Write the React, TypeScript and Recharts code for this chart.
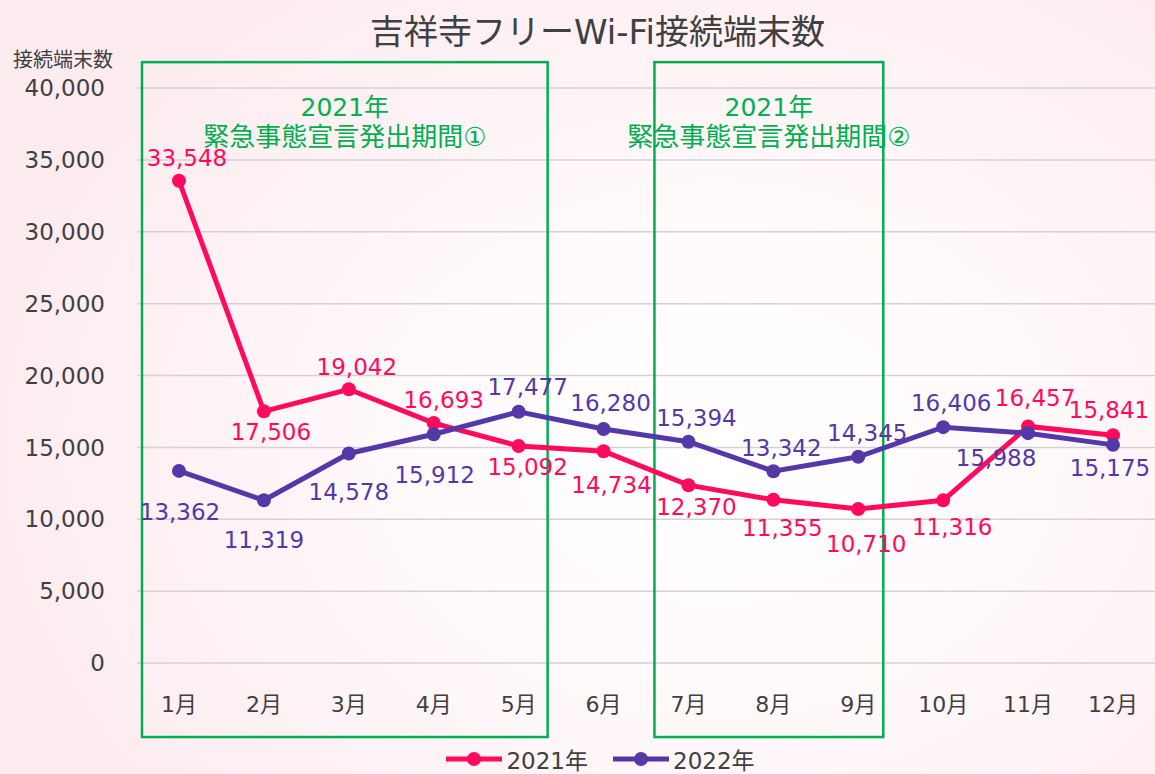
import {
  LineChart, Line, XAxis, YAxis, CartesianGrid, Legend, LabelList, ReferenceArea,
} from "recharts";

const months = ["1月", "2月", "3月", "4月", "5月", "6月", "7月", "8月", "9月", "10月", "11月", "12月"];
const y2021 = [33548, 17506, 19042, 16693, 15092, 14734, 12370, 11355, 10710, 11316, 16457, 15841];
const y2022 = [13362, 11319, 14578, 15912, 17477, 16280, 15394, 13342, 14345, 16406, 15988, 15175];
const yTicks = [0, 5000, 10000, 15000, 20000, 25000, 30000, 35000, 40000];

// label offsets (dx, dy) from each point, picked by eye
const off2021 = [[8, -23], [7, 21], [8, -22], [10, -23], [9, 21], [8, 34], [8, 22], [9, 28], [8, 35], [9, 27], [7, -28], [-4, -25]];
const off2022 = [[1, 41], [0, 40], [0, 39], [1, 41], [9, -25], [7, -26], [8, -24], [8, -23], [9, -24], [8, -24], [-32, 25], [-3, 23]];

const RED = "#FF0A5C";
const PURPLE = "#5438A8";
const GREEN = "#00B050";
const TEXT = "#404040";
const FONT = "'DejaVu Sans', 'Noto Sans CJK JP', sans-serif";

const data = months.map((m, i) => ({ month: m, a: y2021[i], b: y2022[i] }));

const fmt = (v: number) => v.toLocaleString("en-US");

const makeLabel = (offsets: number[][], color: string) => (props: any) => {
  const { x, y, index, value } = props;
  const [dx, dy] = offsets[index] || [0, -20];
  return (
    <text x={x + dx} y={y + dy} fill={color} fontSize={23} fontFamily={FONT}
      textAnchor="middle" dominantBaseline="central">
      {fmt(value)}
    </text>
  );
};

// box around an emergency period; extends past the first/last month points
const periodBox = (line1: string, line2: string, extL: number, extR: number) => (props: any) => {
  const { x, y, width, height } = props;
  const left = x - extL;
  const w = width + extL + extR;
  const cx = left + w / 2;
  return (
    <g>
      <rect x={left} y={y} width={w} height={height} fill="none" stroke={GREEN} strokeWidth={2.5} />
      <text x={cx} y={y + 45} fill={GREEN} fontSize={25} fontFamily={FONT} textAnchor="middle" dominantBaseline="central">{line1}</text>
      <text x={cx} y={y + 75} fill={GREEN} fontSize={26} fontFamily={FONT} textAnchor="middle" dominantBaseline="central">{line2}</text>
    </g>
  );
};

function LegendBox() {
  const items = [
    { name: "2021年", color: RED },
    { name: "2022年", color: PURPLE },
  ];
  return (
    <div style={{ display: "flex", justifyContent: "center", gap: 25, paddingLeft: 46, fontFamily: FONT, fontSize: 23, color: TEXT }}>
      {items.map((it) => (
        <div key={it.name} style={{ display: "flex", alignItems: "center" }}>
          <svg width={56} height={20} style={{ marginRight: 4 }}>
            <line x1={0} y1={10} x2={56} y2={10} stroke={it.color} strokeWidth={5} />
            <circle cx={28} cy={10} r={7} fill={it.color} />
          </svg>
          <span>{it.name}</span>
        </div>
      ))}
    </div>
  );
}

export default function App() {
  return (
    <div style={{
      position: "absolute", left: 0, top: 0, width: 1155, height: 774, overflow: "hidden",
      background: "radial-gradient(ellipse 62% 72% at 62% 58%, #ffffff 0%, #fff9fa 45%, #fcecf0 100%)",
    }}>
      <div style={{ position: "absolute", left: 0, width: 1195, top: 5, textAlign: "center", fontFamily: FONT, fontSize: 34, color: TEXT }}>
        吉祥寺フリーWi-Fi接続端末数
      </div>
      <div style={{ position: "absolute", left: 13, top: 44, fontFamily: FONT, fontSize: 20, color: TEXT }}>
        接続端末数
      </div>
      <LineChart width={1155} height={774} data={data} margin={{ top: 88, right: 0, left: 0, bottom: 0 }}>
        <CartesianGrid vertical={false} stroke="#d6d2d3" strokeWidth={1.5} />
        <XAxis dataKey="month" axisLine={false} tickLine={false} height={79} tickMargin={27}
          padding={{ left: 42, right: 42 }}
          tick={{ fill: TEXT, fontSize: 22, fontFamily: FONT }} interval={0} />
        <YAxis width={137} domain={[0, 40000]} ticks={yTicks} axisLine={false} tickLine={false}
          tickMargin={26} tickFormatter={fmt} tick={{ fill: TEXT, fontSize: 23, fontFamily: FONT }} />
        <ReferenceArea x1="1月" x2="5月" y1={-5150} y2={41800} ifOverflow="visible"
          shape={periodBox("2021年", "緊急事態宣言発出期間①", 37, 29)} />
        <ReferenceArea x1="7月" x2="9月" y1={-5150} y2={41800} ifOverflow="visible"
          shape={periodBox("2021年", "緊急事態宣言発出期間②", 34, 25)} />
        <Legend verticalAlign="bottom" height={32} content={() => <LegendBox />} />
        <Line dataKey="a" name="2021年" stroke={RED} strokeWidth={5} isAnimationActive={false}
          dot={{ r: 7, fill: RED, stroke: RED, strokeWidth: 0 }}>
          <LabelList dataKey="a" content={makeLabel(off2021, RED)} />
        </Line>
        <Line dataKey="b" name="2022年" stroke={PURPLE} strokeWidth={5} isAnimationActive={false}
          dot={{ r: 7, fill: PURPLE, stroke: PURPLE, strokeWidth: 0 }}>
          <LabelList dataKey="b" content={makeLabel(off2022, PURPLE)} />
        </Line>
      </LineChart>
    </div>
  );
}
